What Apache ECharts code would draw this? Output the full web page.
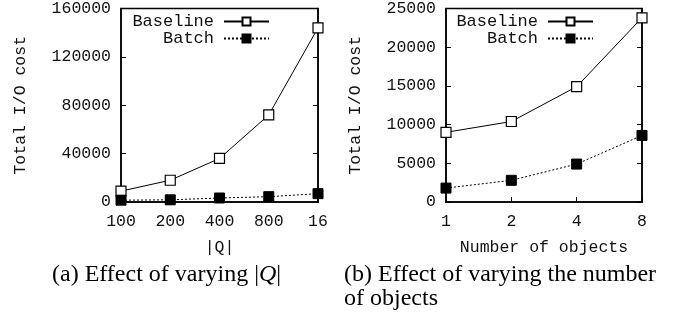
<!DOCTYPE html>
<html><head><meta charset="utf-8">
<script src="https://cdn.jsdelivr.net/npm/echarts@6/dist/echarts.min.js"></script>
<style>html,body{margin:0;padding:0;background:#fff}#c{width:676px;height:320px}</style>
</head><body><div id="c"></div>
<script>
const catsA = ['100','200','400','800','16'];
const baselineA = [9000, 18000, 36000, 72000, 144000];
const batchA = [1500, 1800, 3300, 4400, 6900];
const yTicksA = [0, 40000, 80000, 120000, 160000];

const catsB = ['1','2','4','8'];
const baselineB = [9000, 10400, 14900, 23800];
const batchB = [1800, 2800, 4900, 8600];
const yTicksB = [0, 5000, 10000, 15000, 20000, 25000];

const mono = 'Liberation Mono';
const fs = 16.5;
const txt = '#111';
const chart = echarts.init(document.getElementById('c'), null, {renderer:'canvas'});

function xAx(idx, cats, name, gap){
  return {type:'category', gridIndex:idx, data:cats, boundaryGap:false,
    axisLine:{show:true, lineStyle:{color:'#000', width:1.5}},
    axisTick:{show:true, inside:true, length:5, alignWithLabel:true, lineStyle:{color:'#000'}},
    axisLabel:{color:txt, fontFamily:mono, fontSize:fs, margin:11},
    name:name, nameLocation:'middle', nameGap:gap,
    nameTextStyle:{color:txt, fontFamily:mono, fontSize:fs},
    splitLine:{show:false}};
}
function yAx(idx, max, interval, gap){
  return {type:'value', gridIndex:idx, min:0, max:max, interval:interval,
    axisLine:{show:true, lineStyle:{color:'#000', width:1.5}},
    axisTick:{show:true, inside:true, length:5, lineStyle:{color:'#000'}},
    axisLabel:{color:txt, fontFamily:mono, fontSize:fs, margin:10, formatter:function(v){return String(v);}},
    name:'Total I/O cost', nameLocation:'middle', nameGap:gap, nameRotate:90,
    nameTextStyle:{color:txt, fontFamily:mono, fontSize:fs},
    splitLine:{show:false}};
}
function yAxR(idx, max, interval){
  return {type:'value', gridIndex:idx, min:0, max:max, interval:interval, position:'right',
    axisLine:{show:true, lineStyle:{color:'#000', width:1.5}},
    axisTick:{show:true, inside:true, length:5, lineStyle:{color:'#000'}},
    axisLabel:{show:false}, splitLine:{show:false}};
}
function base(name, xi, yi, data){
  return {name:name, type:'line', xAxisIndex:xi, yAxisIndex:yi, data:data,
    symbol:'rect', symbolSize:10, showSymbol:true,
    lineStyle:{color:'#000', width:1},
    itemStyle:{color:'#fff', borderColor:'#000', borderWidth:1.2},
    animation:false, z:3};
}
function bat(name, xi, yi, data){
  return {name:name, type:'line', xAxisIndex:xi, yAxisIndex:yi, data:data,
    symbol:'rect', symbolSize:10, showSymbol:true,
    lineStyle:{color:'#000', width:1, type:[2,2]},
    itemStyle:{color:'#000', borderColor:'#000', borderWidth:1},
    animation:false, z:3};
}
function leg(name, right, top){
  return {data:[name], right:right, top:top, align:'right', orient:'vertical',
    itemWidth:45, itemHeight:10, padding:0,
    textStyle:{color:txt, fontFamily:mono, fontSize:17, padding:[0,5,0,0]},
    selectedMode:false};
}

chart.setOption({
  animation:false,
  grid:[
    {left:121, top:7, width:197, height:195, show:true, borderColor:'#000', borderWidth:1.5, backgroundColor:'transparent'},
    {left:446, top:7, width:196, height:195, show:true, borderColor:'#000', borderWidth:1.5, backgroundColor:'transparent'}
  ],
  xAxis:[xAx(0, catsA, '|Q|', 37), xAx(1, catsB, 'Number of objects', 37)],
  yAxis:[yAx(0, yTicksA[yTicksA.length-1], yTicksA[1]-yTicksA[0], 92), yAxR(0, yTicksA[yTicksA.length-1], yTicksA[1]-yTicksA[0]),
         yAx(1, yTicksB[yTicksB.length-1], yTicksB[1]-yTicksB[0], 82), yAxR(1, yTicksB[yTicksB.length-1], yTicksB[1]-yTicksB[0])],
  legend:[
    leg('Baseline', 406, 13), leg('Batch', 406, 30),
    leg('Baseline', 82, 13), leg('Batch', 82, 30)
  ],
  title:[
    {text:'(a) Effect of varying |{i|Q}|', left:52, top:263, padding:0,
      textStyle:{color:'#000', fontFamily:'Liberation Serif', fontSize:24, fontWeight:'normal', lineHeight:24,
        rich:{i:{fontFamily:'Liberation Serif', fontSize:24, fontStyle:'italic', color:'#000', lineHeight:24}}}},
    {text:'(b) Effect of varying the number\nof objects', left:344, top:263, padding:0,
      textStyle:{color:'#000', fontFamily:'Liberation Serif', fontSize:24, fontWeight:'normal', lineHeight:24}}
  ],
  series:[
    base('Baseline', 0, 0, baselineA), bat('Batch', 0, 0, batchA),
    base('Baseline', 1, 2, baselineB), bat('Batch', 1, 2, batchB)
  ]
});
</script></body></html>
